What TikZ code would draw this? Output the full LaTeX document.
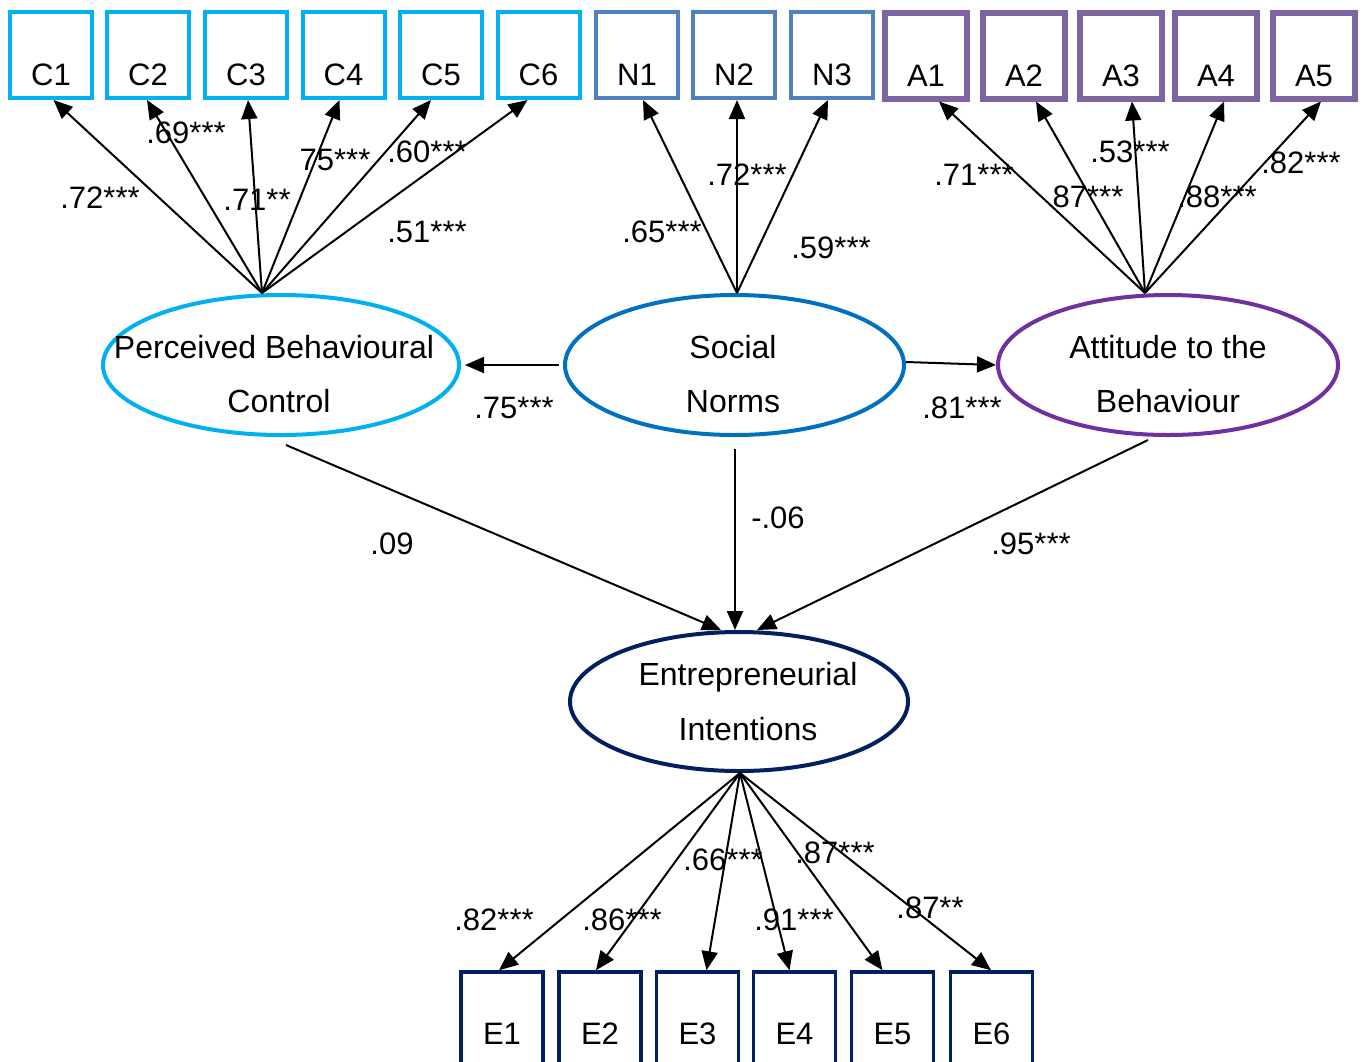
\documentclass[tikz,border=0pt]{standalone}
\usepackage{fontspec}
\setmainfont{Liberation Sans}
\usetikzlibrary{shapes.geometric,arrows.meta}

\definecolor{pbccol}{HTML}{00B0F0}
\definecolor{sncol}{HTML}{0070C0}
\definecolor{snbox}{HTML}{4F81BD}
\definecolor{atbcol}{HTML}{7030A0}
\definecolor{atbbox}{HTML}{8064A2}
\definecolor{eicol}{HTML}{002060}

\tikzset{
  every node/.style={font=\fontsize{31}{37}\selectfont},
  ind/.style={draw, rectangle, minimum width=82pt, minimum height=86pt,
    inner sep=0pt, line width=4pt,
    label={[anchor=base, yshift=15pt, inner sep=0pt]south:#1}},
  indlow/.style={draw, rectangle, minimum width=82pt, minimum height=96pt,
    inner sep=0pt, line width=3.5pt,
    label={[anchor=base, yshift=25pt, inner sep=0pt]south:#1}},
  lat/.style={draw, ellipse, line width=4pt, inner sep=0pt, minimum height=140pt},
  latext/.style={anchor=base, inner sep=0pt, font=\fontsize{32}{38}\selectfont},
  coef/.style={inner sep=0pt},
  path/.style={-{Triangle[length=19pt,width=16pt]}, line width=2pt},
}

\begin{document}
\begin{tikzpicture}[x=1pt, y=-1pt]
  \fill[white] (0,0) rectangle (1368,1061);
  \useasboundingbox (0,0) rectangle (1368,1061);

  % indicator boxes, top row
  \node[ind=C1, draw=pbccol] (c1) at (51,55) {};
  \node[ind=C2, draw=pbccol] (c2) at (148,55) {};
  \node[ind=C3, draw=pbccol] (c3) at (246,55) {};
  \node[ind=C4, draw=pbccol] (c4) at (343.5,55) {};
  \node[ind=C5, draw=pbccol] (c5) at (441,55) {};
  \node[ind=C6, draw=pbccol] (c6) at (538.5,55) {};
  \node[ind=N1, draw=snbox] (n1) at (637,55) {};
  \node[ind=N2, draw=snbox] (n2) at (734,55) {};
  \node[ind=N3, draw=snbox] (n3) at (832,55) {};
  \node[ind=A1, draw=atbbox, line width=6pt] (a1) at (926,55.5) {};
  \node[ind=A2, draw=atbbox, line width=6pt] (a2) at (1024,55.5) {};
  \node[ind=A3, draw=atbbox, line width=6pt] (a3) at (1121,55.5) {};
  \node[ind=A4, draw=atbbox, line width=6pt] (a4) at (1216,55.5) {};
  \node[ind=A5, draw=atbbox, line width=6pt] (a5) at (1314,55.5) {};

  % indicator boxes, bottom row (their lower edge runs off the page)
  \node[indlow=E1, draw=eicol] (e1) at (502,1020) {};
  \node[indlow=E2, draw=eicol] (e2) at (600,1020) {};
  \node[indlow=E3, draw=eicol] (e3) at (697.5,1020) {};
  \node[indlow=E4, draw=eicol] (e4) at (794.5,1020) {};
  \node[indlow=E5, draw=eicol] (e5) at (892.5,1020) {};
  \node[indlow=E6, draw=eicol] (e6) at (991.5,1020) {};

  % latent variables
  \node[lat, draw=pbccol, minimum width=356pt] (pbc) at (281,365) {};
  \node[lat, draw=sncol, minimum width=339pt] (sn) at (734.5,365) {};
  \node[lat, draw=atbcol, minimum width=340pt] (atb) at (1168,365) {};
  \node[lat, draw=eicol, minimum width=338pt, minimum height=139pt] (ei) at (739,701.5) {};

  \node[latext] (pbct1) at (274,358) {Perceived Behavioural};
  \node[latext] (pbct2) at (279,412) {Control};
  \node[latext] (snt1) at (733,358) {Social};
  \node[latext] (snt2) at (733,412) {Norms};
  \node[latext] (atbt1) at (1168,358) {Attitude to the};
  \node[latext] (atbt2) at (1168,412) {Behaviour};
  \node[latext] (eit1) at (748,685) {Entrepreneurial};
  \node[latext] (eit2) at (748,740) {Intentions};

  % common origins of the loading arrows
  \coordinate (pbcsrc) at ([xshift=-19pt]pbc.north);
  \coordinate (snsrc) at ([xshift=2.5pt]sn.north);
  \coordinate (atbsrc) at ([xshift=-23pt]atb.north);
  \coordinate (eisrc) at ([xshift=1pt]ei.south);

  % loadings
  \foreach \n/\dx in {c1/2.5, c2/-1, c3/2, c4/-4, c5/-10, c6/-11}
    \draw[path] (pbcsrc) -- ([xshift=\dx pt]\n.south);
  \foreach \n/\dx in {n1/6, n2/3, n3/-4}
    \draw[path] (snsrc) -- ([xshift=\dx pt]\n.south);
  \foreach \n/\dx in {a1/13, a2/12, a3/11, a4/8, a5/7}
    \draw[path] (atbsrc) -- ([xshift=\dx pt]\n.south);
  \foreach \n/\dx in {e1/-3, e2/-4, e3/9, e4/-5, e5/-10, e6/-0.5}
    \draw[path] (eisrc) -- ([xshift=\dx pt]\n.north);

  % structural paths
  \draw[path] ([xshift=-4pt]sn.west) -- ([xshift=4pt]pbc.east);
  \draw[path] ([yshift=3pt]sn.east) -- (atb.west);
  \draw[path] ([xshift=5pt,yshift=-8pt]pbc.south) -- ([xshift=-18pt]ei.north);
  \draw[path] ([xshift=0.5pt,yshift=-12pt]sn.south) -- ([xshift=-4pt]ei.north);
  \draw[path] ([xshift=-20pt,yshift=-3pt]atb.south) -- ([xshift=18pt]ei.north);

  % coefficients
  \node[coef] (l1) at (100,198) {.72***};
  \node[coef] (l2) at (186,133) {.69***};
  \node[coef] (l3) at (257,200) {.71**};
  \node[coef] (l4) at (335,160) {75***};
  \node[coef] (l5) at (427,152) {.60***};
  \node[coef] (l6) at (427,232) {.51***};
  \node[coef] (l7) at (662,232) {.65***};
  \node[coef] (l8) at (747,175) {.72***};
  \node[coef] (l9) at (831,248) {.59***};
  \node[coef] (l10) at (974,175) {.71***};
  \node[coef] (l11) at (1088,197) {87***};
  \node[coef] (l12) at (1130,152) {.53***};
  \node[coef] (l13) at (1217,197) {.88***};
  \node[coef] (l14) at (1301,163) {.82***};
  \node[coef] (l15) at (514,408) {.75***};
  \node[coef] (l16) at (962,408) {.81***};
  \node[coef] (l17) at (392,544) {.09};
  \node[coef] (l18) at (778,518) {-.06};
  \node[coef] (l19) at (1031,544) {.95***};
  \node[coef] (l20) at (494,920) {.82***};
  \node[coef] (l21) at (622,920) {.86***};
  \node[coef] (l22) at (723,860) {.66***};
  \node[coef] (l23) at (794,920) {.91***};
  \node[coef] (l24) at (835,853) {.87***};
  \node[coef] (l25) at (930,908) {.87**};
\end{tikzpicture}
\end{document}
